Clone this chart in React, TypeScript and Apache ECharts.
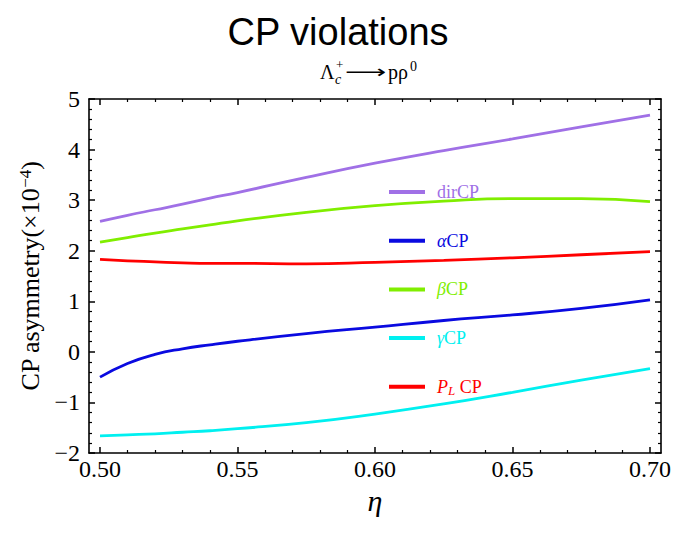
import React, { useEffect, useRef } from "react";
import * as echarts from "echarts";

const eta = [0.5, 0.51, 0.52, 0.53, 0.54, 0.55, 0.575, 0.6, 0.625, 0.65, 0.675, 0.7];
const dirCP = [2.58, 2.7, 2.81, 2.92, 3.04, 3.15, 3.45, 3.73, 3.98, 4.21, 4.45, 4.68];
const alphaCP = [-0.5, -0.23, -0.05, 0.06, 0.14, 0.21, 0.36, 0.49, 0.62, 0.73, 0.86, 1.03];
const betaCP = [2.17, 2.26, 2.35, 2.43, 2.51, 2.59, 2.76, 2.89, 2.98, 3.03, 3.03, 2.97];
const gammaCP = [-1.66, -1.64, -1.62, -1.59, -1.56, -1.52, -1.4, -1.23, -1.03, -0.8, -0.56, -0.33];
const plCP = [1.83, 1.8, 1.78, 1.76, 1.75, 1.75, 1.74, 1.77, 1.81, 1.86, 1.92, 1.98];

const seriesNames = ["dirCP", "αCP", "βCP", "γCP", "PL CP"];
const seriesColors = ["#a070e6", "#0a0ae0", "#80ee00", "#00f0f0", "#ff0000"];
const seriesValues = [dirCP, alphaCP, betaCP, gammaCP, plCP];

const xMajor = [0.5, 0.55, 0.6, 0.65, 0.7];
const xMinor = [0.51, 0.52, 0.53, 0.54, 0.56, 0.57, 0.58, 0.59, 0.61, 0.62, 0.63, 0.64, 0.66, 0.67, 0.68, 0.69];

const SERIF = "'Liberation Serif', 'Times New Roman', serif";

export default function App() {
  const ref = useRef<HTMLDivElement>(null);
  useEffect(() => {
    document.body.style.margin = "0";
    const chart = echarts.init(ref.current!, null, { renderer: "svg" });
    const lineCol = "#000";
    const baseX = {
      type: "value",
      min: 0.496,
      max: 0.704,
      splitLine: { show: false },
      axisLabel: { show: false },
    };
    const mkMajorX = (pos: string, labels: boolean) => ({
      ...baseX,
      position: pos,
      axisLine: { show: true, onZero: false, lineStyle: { color: lineCol, width: 1.6 } },
      axisTick: { show: true, inside: true, length: 6, customValues: xMajor, lineStyle: { color: lineCol, width: 1.5 } },
      axisLabel: labels
        ? {
            show: true,
            customValues: xMajor,
            formatter: (v: number) => v.toFixed(2),
            fontFamily: SERIF,
            fontSize: 24,
            color: "#000",
            margin: 4,
          }
        : { show: false },
      ...(labels
        ? {
            name: "η",
            nameLocation: "middle",
            nameGap: 15,
            nameTextStyle: { fontFamily: SERIF, fontStyle: "italic", fontSize: 30, color: "#000" },
          }
        : {}),
    });
    const mkMinorX = (pos: string) => ({
      ...baseX,
      position: pos,
      axisLine: { show: false, onZero: false },
      axisTick: { show: true, inside: true, length: 3, customValues: xMinor, lineStyle: { color: lineCol, width: 1.2 } },
    });
    const mkY = (pos: string, labels: boolean) => ({
      type: "value",
      min: -2,
      max: 5,
      interval: 1,
      position: pos,
      splitLine: { show: false },
      axisLine: { show: true, onZero: false, lineStyle: { color: lineCol, width: 1.6 } },
      axisTick: { show: true, inside: true, length: 6, lineStyle: { color: lineCol, width: 1.5 } },
      minorTick: { show: true, splitNumber: 5, length: 3, lineStyle: { color: lineCol, width: 1.2 } },
      minorSplitLine: { show: false },
      axisLabel: labels
        ? {
            show: true,
            formatter: (v: number) => (v < 0 ? "−" + Math.abs(v) : String(v)),
            fontFamily: SERIF,
            fontSize: 24,
            color: "#000",
            margin: 9,
          }
        : { show: false },
      ...(labels
        ? {
            name: "CP asymmetry(×10{sup|−4})",
            nameLocation: "middle",
            nameGap: 40,
            nameRotate: 90,
            nameTextStyle: {
              fontFamily: SERIF,
              fontSize: 26,
              color: "#000",
              rich: {
                sup: { fontFamily: SERIF, fontSize: 17, color: "#000", verticalAlign: "top", padding: [0, 0, 10, 0] },
              },
            },
          }
        : {}),
    });

    const richBase = { fontFamily: SERIF, fontSize: 18, lineHeight: 20 };
    const legendFormat: Record<string, string> = {
      dirCP: "{d|dirCP}",
      "αCP": "{ai|α}{a|CP}",
      "βCP": "{bi|β}{b|CP}",
      "γCP": "{gi|γ}{g|CP}",
      "PL CP": "{pi|P}{ps|L}{p| CP}",
    };

    chart.setOption({
      animation: false,
      backgroundColor: "#fff",
      title: {
        text: "CP violations",
        left: "center",
        top: 8,
        textStyle: { fontFamily: "'Liberation Sans', Arial, sans-serif", fontSize: 38, fontWeight: "normal", color: "#000" },
      },
      grid: { left: 89, right: 15, top: 99, bottom: 83, containLabel: false, outerBoundsMode: "none" },
      legend: {
        orient: "vertical",
        left: 384,
        top: 177,
        icon: "rect",
        itemWidth: 36,
        itemHeight: 4,
        itemGap: 28.7,
        data: seriesNames,
        selectedMode: false,
        formatter: (n: string) => legendFormat[n] || n,
        textStyle: {
          ...richBase,
          padding: [0, 0, 0, 7],
          rich: {
            d: { ...richBase, color: seriesColors[0] },
            ai: { ...richBase, fontStyle: "italic", color: seriesColors[1] },
            a: { ...richBase, color: seriesColors[1] },
            bi: { ...richBase, fontStyle: "italic", color: seriesColors[2] },
            b: { ...richBase, color: seriesColors[2] },
            gi: { ...richBase, fontStyle: "italic", color: seriesColors[3] },
            g: { ...richBase, color: seriesColors[3] },
            pi: { ...richBase, fontStyle: "italic", color: seriesColors[4] },
            ps: { fontFamily: SERIF, fontSize: 13, lineHeight: 20, fontStyle: "italic", color: seriesColors[4], verticalAlign: "bottom" },
            p: { ...richBase, color: seriesColors[4] },
          },
        },
      },
      xAxis: [mkMajorX("bottom", true), mkMinorX("bottom"), mkMajorX("top", false), mkMinorX("top")],
      yAxis: [mkY("left", true), mkY("right", false)],
      graphic: [
        { type: "text", x: 320, y: 71.5, style: { text: "Λ", font: `20px ${SERIF}`, fill: "#000", verticalAlign: "middle" } },
        { type: "text", x: 336, y: 64.5, style: { text: "+", font: `13px ${SERIF}`, fill: "#000", verticalAlign: "middle" } },
        { type: "text", x: 335, y: 79.5, style: { text: "c", font: `italic 14px ${SERIF}`, fill: "#000", verticalAlign: "middle" } },
        { type: "text", x: 345, y: 72, scaleX: 1.6, style: { text: "⟶", font: `18px 'DejaVu Sans'`, fill: "#000", verticalAlign: "middle" } },
        { type: "text", x: 388, y: 71.5, style: { text: "pρ", font: `20px ${SERIF}`, fill: "#000", verticalAlign: "middle" } },
        { type: "text", x: 410, y: 66.5, style: { text: "0", font: `14px ${SERIF}`, fill: "#000", verticalAlign: "middle" } },
      ],
      series: seriesNames.map((name, i) => ({
        name,
        type: "line",
        data: eta.map((x, j) => [x, seriesValues[i][j]]),
        showSymbol: false,
        symbol: "none",
        smooth: 0.5,
        lineStyle: { color: seriesColors[i], width: 2.8 },
        itemStyle: { color: seriesColors[i] },
        xAxisIndex: 0,
        yAxisIndex: 0,
      })),
    });
    return () => chart.dispose();
  }, []);
  return <div ref={ref} style={{ width: 676, height: 536 }} />;
}
